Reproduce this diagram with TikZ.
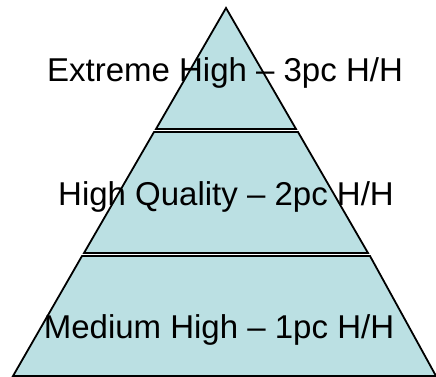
\documentclass[tikz,border=0pt]{standalone}
\usepackage{fontspec}
\setmainfont{Liberation Sans}
\definecolor{tierfill}{RGB}{187,224,227}

\begin{document}
\begin{tikzpicture}[
    x=1pt, y=-1pt,
    tier/.style={draw=black, fill=tierfill, line width=1.8pt, line join=miter},
    tierlabel/.style={anchor=base, inner sep=0pt, font=\fontsize{33}{40}\selectfont}
]
\useasboundingbox (0,0) rectangle (436,377);

\draw [tier] (226,8) -- (296,129) -- (156,129) -- cycle;
\draw [tier] (154,132) -- (298,132) -- (368,253) -- (84,253) -- cycle;
\draw [tier] (82,256) -- (370,256) -- (436,376) -- (13,376) -- cycle;

\node [tierlabel] (top) at (225,82) {Extreme High -- 3pc H/H};
\node [tierlabel] (mid) at (226,205) {High Quality -- 2pc H/H};
\node [tierlabel] (base) at (219,338) {Medium High -- 1pc H/H};

\end{tikzpicture}
\end{document}
